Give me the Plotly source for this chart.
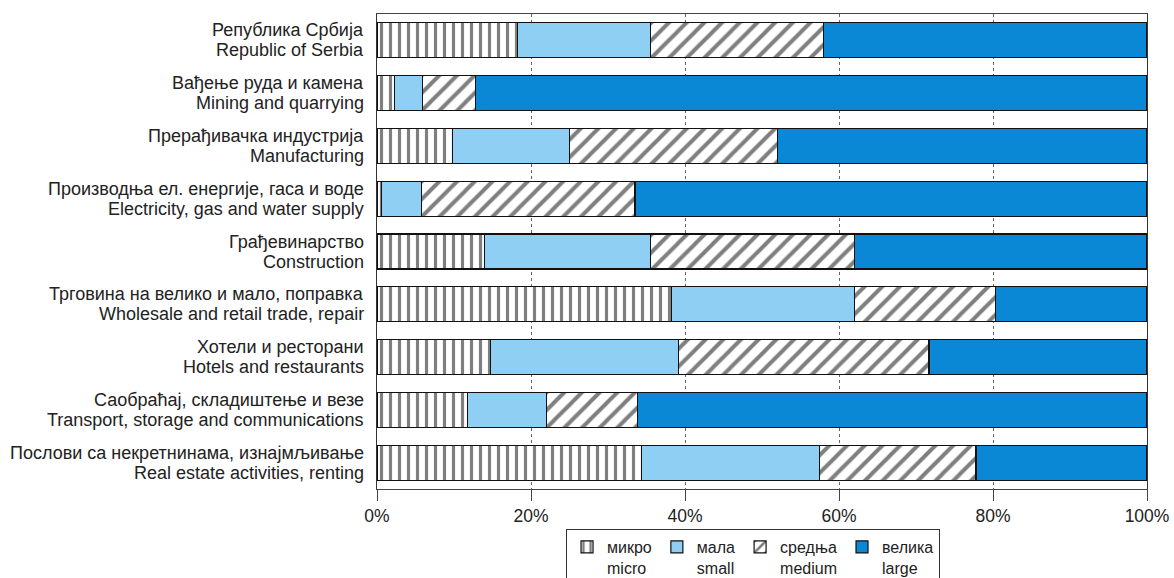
import plotly.graph_objects as go

# ---- data ----
labels_sr = [
    "Република Србија",
    "Вађење руда и камена",
    "Прерађивачка индустрија",
    "Производња ел. енергије, гаса и воде",
    "Грађевинарство",
    "Трговина на велико и мало, поправка",
    "Хотели и ресторани",
    "Саобраћај, складиштење и везе",
    "Послови са некретнинама, изнајмљивање",
]
labels_en = [
    "Republic of Serbia",
    "Mining and quarrying",
    "Manufacturing",
    "Electricity, gas and water supply",
    "Construction",
    "Wholesale and retail trade, repair",
    "Hotels and restaurants",
    "Transport, storage and communications",
    "Real estate activities, renting",
]
micro = [18.2, 2.3, 9.8, 0.6, 14.0, 38.2, 14.7, 11.8, 34.3]
small = [17.3, 3.6, 15.2, 5.2, 21.5, 23.8, 24.5, 10.2, 23.2]
medium = [22.5, 6.9, 27.0, 27.7, 26.5, 18.3, 32.5, 11.8, 20.3]
large = [42.0, 87.2, 48.0, 66.5, 38.0, 19.7, 28.3, 66.2, 22.2]

series_names = ["микро<br>micro", "мала<br>small", "средња<br>medium", "велика<br>large"]
tick_vals = [0, 20, 40, 60, 80, 100]
tick_text = ["0%", "20%", "40%", "60%", "80%", "100%"]

FONT = "Liberation Sans, Arial, Helvetica, sans-serif"
LIGHT = "#8ecff3"
DARK = "#0a87d5"

cats = labels_en
fig = go.Figure()

fig.add_trace(go.Bar(
    y=cats, x=micro, orientation="h", name=series_names[0],
    marker=dict(color="white", line=dict(color="#111", width=1.2),
                pattern=dict(shape="|", fgcolor="#000", bgcolor="white", size=9, solidity=0.35)),
))
fig.add_trace(go.Bar(
    y=cats, x=small, orientation="h", name=series_names[1],
    marker=dict(color=LIGHT, line=dict(color="#111", width=1.2)),
))
fig.add_trace(go.Bar(
    y=cats, x=medium, orientation="h", name=series_names[2],
    marker=dict(color="white", line=dict(color="#111", width=1.2),
                pattern=dict(shape="/", fgcolor="#000", bgcolor="white", size=12.5, solidity=0.32)),
))
fig.add_trace(go.Bar(
    y=cats, x=large, orientation="h", name=series_names[3],
    marker=dict(color=DARK, line=dict(color="#111", width=1.2)),
))

annotations = []
for c, sr, en in zip(cats, labels_sr, labels_en):
    annotations.append(dict(x=0, xref="paper", y=c, yref="y", text=sr, showarrow=False,
                            xanchor="right", yanchor="middle", xshift=-11, yshift=10,
                            font=dict(family=FONT, size=18, color="#222")))
    annotations.append(dict(x=0, xref="paper", y=c, yref="y", text=en, showarrow=False,
                            xanchor="right", yanchor="middle", xshift=-11, yshift=-10,
                            font=dict(family=FONT, size=18, color="#222")))

fig.update_layout(
    barmode="stack",
    bargap=0.337,
    width=1174, height=578,
    margin=dict(l=377, r=27, t=14, b=89, autoexpand=False),
    paper_bgcolor="white", plot_bgcolor="white",
    font=dict(family=FONT, size=17, color="#222"),
    annotations=annotations,
    legend=dict(
        orientation="h", x=0.2455, xanchor="left", y=-0.0842, yanchor="top",
        bordercolor="#333", borderwidth=1, font=dict(family=FONT, size=16, color="#222"),
        valign="top", traceorder="normal", itemwidth=30,
    ),
    xaxis=dict(
        range=[0, 100], tickvals=tick_vals, ticktext=tick_text,
        showline=True, linecolor="#444", linewidth=1, mirror=True,
        ticks="outside", ticklen=11, tickcolor="#444",
        showgrid=True, gridcolor="#666", griddash="dot", gridwidth=1,
        zeroline=False, tickfont=dict(family=FONT, size=17.5, color="#222"),
    ),
    yaxis=dict(
        type="category", autorange="reversed", showticklabels=False,
        showline=True, linecolor="#333", linewidth=1, mirror=True,
        ticks="", showgrid=False, zeroline=False,
    ),
)

fig.write_html(
    "out.html",
    config={"displayModeBar": False},
    post_script="document.body.style.margin='0';document.body.style.overflow='hidden';",
)
